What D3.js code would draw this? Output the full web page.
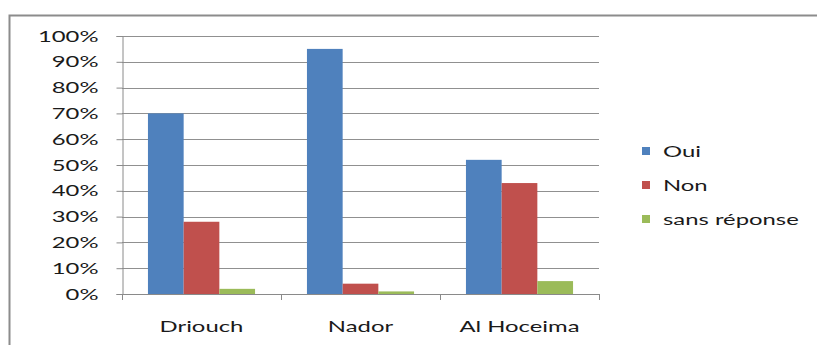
<!DOCTYPE html>
<html>
<head>
<meta charset="utf-8">
<script src="https://cdn.jsdelivr.net/npm/d3@7"></script>
<style>
  html, body { margin: 0; padding: 0; background: #fff; }
  svg { display: block; }
  text { font-family: Lato, "Open Sans", sans-serif; fill: #1a1a1a; }
</style>
</head>
<body>
<svg id="chart" width="817" height="345"></svg>
<script>
// Regions surveyed
const categories = ["Driouch", "Nador", "Al Hoceima"];
// Answer series (share of respondents, %)
const seriesNames = ["Oui", "Non", "sans réponse"];
const oui = [70, 95, 52];
const non = [28, 4, 43];
const sansReponse = [2, 1, 5];
// Axis ticks
const yTicks = [0, 10, 20, 30, 40, 50, 60, 70, 80, 90, 100];

const colors = ["#4F81BD", "#C0504D", "#9BBB59"];
const values = [oui, non, sansReponse];

const svg = d3.select("#chart");
const W = 817, H = 345;
const plot = { left: 122, right: 599, top: 36, bottom: 294 };
const stretch = 1.49; // text is drawn horizontally widened
const fontSize = 16;

// Outer frame (top and left edges)
svg.append("path")
  .attr("d", `M9.5,${H} L9.5,15.5 L${W},15.5`)
  .attr("fill", "none")
  .attr("stroke", "#8c8c8c")
  .attr("stroke-width", 2);

const x0 = d3.scaleBand().domain(categories).range([plot.left, plot.right]).padding(0);
const x1 = d3.scaleBand().domain(seriesNames).range([0, x0.bandwidth()])
  .paddingInner(0).paddingOuter(0.727);
const y = d3.scaleLinear().domain([0, 100]).range([plot.bottom, plot.top]);

function widen(sel) {
  sel.each(function () {
    const w = this.getComputedTextLength();
    d3.select(this).attr("textLength", w * stretch).attr("lengthAdjust", "spacingAndGlyphs");
  });
}

// Horizontal gridlines
svg.append("g")
  .selectAll("line")
  .data(yTicks.filter(d => d > 0))
  .join("line")
  .attr("x1", plot.left).attr("x2", plot.right)
  .attr("y1", d => Math.round(y(d)) + 0.5).attr("y2", d => Math.round(y(d)) + 0.5)
  .attr("stroke", "#909090").attr("stroke-width", 1);

// Bars
categories.forEach((cat, ci) => {
  const g = svg.append("g").attr("transform", `translate(${x0(cat)},0)`);
  g.selectAll("rect")
    .data(seriesNames.map((s, si) => ({ s, v: values[si][ci], c: colors[si] })))
    .join("rect")
    .attr("x", d => x1(d.s))
    .attr("y", d => y(d.v))
    .attr("width", x1.bandwidth())
    .attr("height", d => plot.bottom - y(d.v))
    .attr("fill", d => d.c);
});

// Y axis
const yAxis = svg.append("g")
  .attr("transform", `translate(${plot.left + 0.5},0)`)
  .call(d3.axisLeft(y).tickValues(yTicks).tickSize(6).tickPadding(18)
    .tickFormat(d => d + "%"));
yAxis.select(".domain").attr("stroke", "#8a8a8a");
yAxis.selectAll(".tick line").attr("stroke", "#8a8a8a");
yAxis.selectAll(".tick text")
  .attr("font-size", fontSize)
  .attr("font-family", "Lato, 'Open Sans', sans-serif")
  .attr("fill", "#1a1a1a")
  .call(widen);

// X axis: baseline with boundary ticks between categories
svg.append("line")
  .attr("x1", plot.left).attr("x2", plot.right)
  .attr("y1", plot.bottom + 0.5).attr("y2", plot.bottom + 0.5)
  .attr("stroke", "#8a8a8a");
const bounds = categories.map(c => x0(c)).concat([x0(categories[categories.length - 1]) + x0.bandwidth()]);
svg.append("g").selectAll("line")
  .data(bounds)
  .join("line")
  .attr("x1", d => Math.round(d) + 0.5).attr("x2", d => Math.round(d) + 0.5)
  .attr("y1", plot.bottom).attr("y2", plot.bottom + 6)
  .attr("stroke", "#8a8a8a");

svg.append("g").selectAll("text")
  .data(categories)
  .join("text")
  .attr("x", d => x0(d) + x0.bandwidth() / 2)
  .attr("y", 332)
  .attr("text-anchor", "middle")
  .attr("font-size", fontSize)
  .text(d => d)
  .call(widen);

// Legend
const legend = svg.append("g").attr("transform", "translate(642,151)");
seriesNames.forEach((s, i) => {
  const row = legend.append("g").attr("transform", `translate(0,${i * 34})`);
  row.append("rect").attr("x", 0).attr("y", -4).attr("width", 8).attr("height", 8).attr("fill", colors[i]);
  row.append("text").attr("x", 21).attr("y", 0).attr("dy", "0.35em")
    .attr("font-size", fontSize).text(s).call(widen);
});
</script>
</body>
</html>
